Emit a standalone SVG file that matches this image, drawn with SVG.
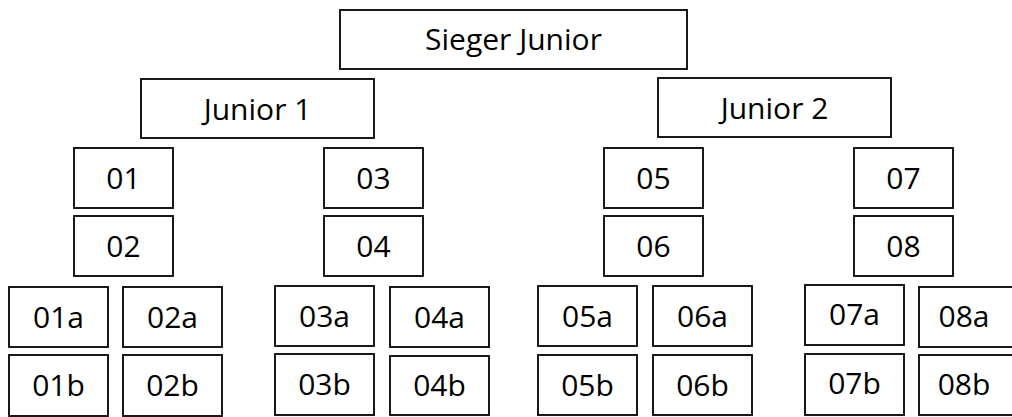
<svg xmlns="http://www.w3.org/2000/svg" width="1012" height="417" viewBox="0 0 1012 417">
<style>
rect{fill:#fff;stroke:#000;stroke-width:1.8}
text{font-family:"Open Sans","Liberation Sans",sans-serif;font-size:30px;fill:#000;text-anchor:middle}
</style>
<rect x="0" y="0" width="1012" height="417" style="stroke:none"/>
<g id="connectors"></g>
<g id="sieger"><rect x="340" y="10" width="347" height="59"/><text x="513.5" y="50">Sieger Junior</text></g>
<g id="junior1"><rect x="141" y="79" width="233" height="59"/><text x="257.5" y="120">Junior 1</text></g>
<g id="junior2"><rect x="658" y="78" width="233" height="59"/><text x="774.5" y="119">Junior 2</text></g>
<g id="n01"><rect x="74" y="148" width="99" height="60"/><text x="123.5" y="189">01</text></g>
<g id="n02"><rect x="74" y="216" width="99" height="60"/><text x="123.5" y="257">02</text></g>
<g id="n03"><rect x="324" y="148" width="99" height="60"/><text x="373.5" y="189">03</text></g>
<g id="n04"><rect x="324" y="216" width="99" height="60"/><text x="373.5" y="257">04</text></g>
<g id="n05"><rect x="604" y="148" width="99" height="60"/><text x="653.5" y="189">05</text></g>
<g id="n06"><rect x="604" y="216" width="99" height="60"/><text x="653.5" y="257">06</text></g>
<g id="n07"><rect x="854" y="148" width="99" height="60"/><text x="903.5" y="189">07</text></g>
<g id="n08"><rect x="854" y="216" width="99" height="60"/><text x="903.5" y="257">08</text></g>
<g id="n01a"><rect x="9" y="287" width="99" height="60"/><text x="58.5" y="328">01a</text></g>
<g id="n01b"><rect x="9" y="355" width="99" height="61"/><text x="58.5" y="396">01b</text></g>
<g id="n02a"><rect x="123" y="287" width="99" height="60"/><text x="172.5" y="328">02a</text></g>
<g id="n02b"><rect x="123" y="355" width="99" height="61"/><text x="172.5" y="396">02b</text></g>
<g id="n03a"><rect x="275" y="286" width="99" height="60"/><text x="324.5" y="327">03a</text></g>
<g id="n03b"><rect x="275" y="354" width="99" height="61"/><text x="324.5" y="395">03b</text></g>
<g id="n04a"><rect x="390" y="287" width="99" height="60"/><text x="439.5" y="328">04a</text></g>
<g id="n04b"><rect x="390" y="356" width="99" height="59"/><text x="439.5" y="396">04b</text></g>
<g id="n05a"><rect x="538" y="286" width="99" height="60"/><text x="587.5" y="327">05a</text></g>
<g id="n05b"><rect x="538" y="355" width="99" height="60"/><text x="587.5" y="396">05b</text></g>
<g id="n06a"><rect x="653" y="286" width="99" height="60"/><text x="702.5" y="327">06a</text></g>
<g id="n06b"><rect x="653" y="355" width="99" height="60"/><text x="702.5" y="396">06b</text></g>
<g id="n07a"><rect x="805" y="285" width="99" height="60"/><text x="854.5" y="325">07a</text></g>
<g id="n07b"><rect x="805" y="354" width="99" height="61"/><text x="854.5" y="394">07b</text></g>
<g id="n08a"><rect x="919" y="287" width="99" height="60"/><text x="964" y="327">08a</text></g>
<g id="n08b"><rect x="919" y="355" width="99" height="60"/><text x="964" y="395">08b</text></g>
</svg>
